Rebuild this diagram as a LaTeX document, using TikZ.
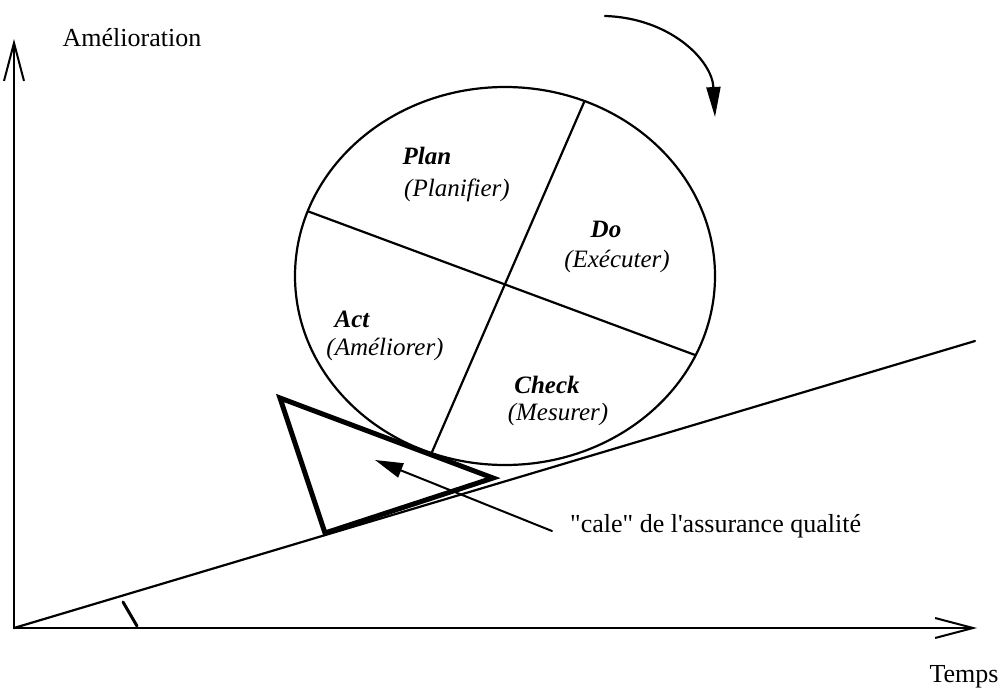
\documentclass[tikz,border=0pt]{standalone}
\usepackage{fontspec}
\setmainfont{Liberation Serif}[Ligatures=TeXOff]
\usetikzlibrary{arrows.meta}
\begin{document}
\begin{tikzpicture}[x=1pt,y=-1pt,line cap=round,line join=round,
  txt/.style={inner sep=0pt,anchor=base,font=\fontsize{26}{30}\selectfont},
  lbl/.style={inner sep=0pt,anchor=base,font=\fontsize{25}{30}\selectfont\itshape},
  hd/.style={inner sep=0pt,anchor=base,font=\fontsize{25}{30}\selectfont\bfseries\itshape},
  axisline/.style={line width=2pt,-{Straight Barb[length=38pt,width=20pt,line width=2pt]}},
  thinline/.style={line width=2.2pt},
  ptr/.style={line width=2pt,-{Triangle[length=28pt,width=15pt]}}]
\path[use as bounding box] (0,0) rectangle (1003,688);

% axes
\coordinate (O) at (14,628);
\coordinate (yend) at (14,39);
\coordinate (xend) at (977,628);
\coordinate (incl) at (975,341);
\draw[axisline] (O) -- (yend);
\draw[axisline] (O) -- (xend);
\draw[thinline] (O) -- (incl);
\draw[line width=3pt] (123,602) -- (137,626);

% labels on axes
\node[txt] (amel) at (132,46) {Amélioration};
\node[txt] (temps) at (964,682) {Temps};

% wheel
\draw[thinline] (505,276) ellipse [x radius=210, y radius=189];
\begin{scope}
  \clip (505,276) ellipse [x radius=210, y radius=189];
  \draw[thinline] (250,189.8) -- (760,379.1);
  \draw[thinline] (415.5,490) -- (602.4,60);
\end{scope}

\node[hd]  (plan) at (427,164) {Plan};
\node[lbl] (planf) at (457,196) {(Planifier)};
\node[hd]  (do) at (606,237) {Do};
\node[lbl] (doe) at (617,267) {(Exécuter)};
\node[hd]  (act) at (352,327) {Act};
\node[lbl] (acta) at (385,355) {(Améliorer)};
\node[hd]  (check) at (547,393) {Check};
\node[lbl] (checkm) at (558,420) {(Mesurer)};

% wedge
\draw[line width=5pt,line join=miter] (280,398) -- (325,533) -- (493,478) -- cycle;

% rotation arrow
\coordinate (rotA) at (605,16);
\coordinate (rotB) at (715,117);
\draw[line width=2.2pt,-{Triangle[length=30pt,width=14pt]}] (rotA) .. controls (670,18) and (712,60) .. (rotB);

% pointer to wedge
\node[txt,anchor=base west] (cale) at (570,532) {"cale" de l'assurance qualité};
\coordinate (ptrA) at (552,531);
\coordinate (ptrB) at (375,460);
\draw[ptr] (ptrA) -- (ptrB);
\end{tikzpicture}
\end{document}
